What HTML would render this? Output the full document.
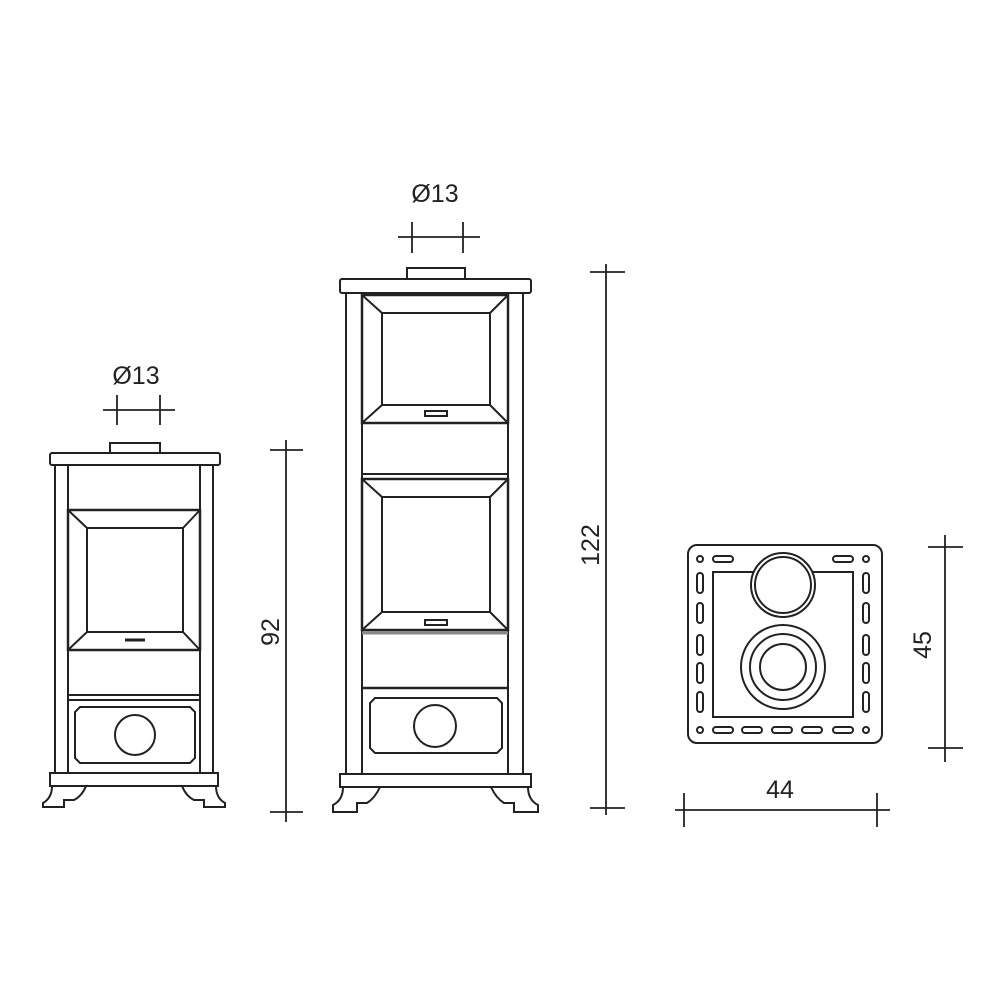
<!DOCTYPE html>
<html><head><meta charset="utf-8"><style>
html,body{margin:0;padding:0;background:#fff}
svg{display:block}
text{font-family:"Liberation Sans",sans-serif;font-size:25px;fill:#222}
</style></head><body>
<svg width="1000" height="1000" viewBox="0 0 1000 1000" xmlns="http://www.w3.org/2000/svg">
<g fill="none" stroke="#222" stroke-width="2">
<!-- small stove -->
<rect x="110" y="443" width="50" height="10"/>
<rect x="50" y="453" width="170" height="12" rx="2"/>
<line x1="55" y1="465" x2="55" y2="773"/><line x1="68" y1="465" x2="68" y2="773"/>
<line x1="200" y1="465" x2="200" y2="773"/><line x1="213" y1="465" x2="213" y2="773"/>
<rect x="68" y="510" width="132" height="140" stroke-width="2.5"/>
<rect x="87" y="528" width="96" height="104"/>
<line x1="68" y1="510" x2="87" y2="528"/><line x1="200" y1="510" x2="183" y2="528"/>
<line x1="68" y1="650" x2="87" y2="632"/><line x1="200" y1="650" x2="183" y2="632"/>
<line x1="125" y1="640" x2="145" y2="640" stroke-width="3"/>
<line x1="68" y1="695" x2="200" y2="695"/><line x1="68" y1="700" x2="200" y2="700"/>
<path d="M80 707 H190 L195 712 V758 L190 763 H80 L75 758 V712 Z"/>
<circle cx="135" cy="735" r="20"/>
<rect x="50" y="773" width="168" height="13"/>
<path d="M52 786 Q52 798 43 803 V807 H64 V800 H74 Q82 796 86 786"/>
<path d="M216 786 Q216 798 225 803 V807 H204 V800 H194 Q186 796 182 786"/>
<!-- tall stove -->
<rect x="407" y="268" width="58" height="11"/>
<rect x="340" y="279" width="191" height="14" rx="2"/>
<line x1="346" y1="293" x2="346" y2="774"/><line x1="362" y1="293" x2="362" y2="774"/>
<line x1="508" y1="293" x2="508" y2="774"/><line x1="523" y1="293" x2="523" y2="774"/>
<rect x="362" y="295" width="146" height="128" stroke-width="2.5"/>
<rect x="382" y="313" width="108" height="92"/>
<line x1="362" y1="295" x2="382" y2="313"/><line x1="508" y1="295" x2="490" y2="313"/>
<line x1="362" y1="423" x2="382" y2="405"/><line x1="508" y1="423" x2="490" y2="405"/>
<rect x="425" y="411" width="22" height="5"/>
<line x1="362" y1="474" x2="508" y2="474"/>
<rect x="362" y="479" width="146" height="151" stroke-width="2.5"/>
<rect x="382" y="497" width="108" height="115"/>
<line x1="362" y1="479" x2="382" y2="497"/><line x1="508" y1="479" x2="490" y2="497"/>
<line x1="362" y1="630" x2="382" y2="612"/><line x1="508" y1="630" x2="490" y2="612"/>
<rect x="425" y="620" width="22" height="5"/>
<line x1="362" y1="633" x2="508" y2="633" stroke="#888" stroke-width="3"/>
<line x1="362" y1="688" x2="508" y2="688" stroke-width="2.5"/>
<path d="M375 698 H497 L502 703 V748 L497 753 H375 L370 748 V703 Z"/>
<circle cx="435" cy="726" r="21"/>
<rect x="340" y="774" width="191" height="13"/>
<path d="M343 787 Q343 800 333 805 V812 H357 V803 H367 Q375 798 380 787"/>
<path d="M528 787 Q528 800 538 805 V812 H514 V803 H504 Q496 798 491 787"/>
<!-- plan -->
<rect x="688" y="545" width="194" height="198" rx="9"/>
<rect x="713" y="572" width="140" height="145"/>
<circle cx="783" cy="585" r="32" fill="#fff"/>
<circle cx="783" cy="585" r="28"/>
<circle cx="783" cy="667" r="42"/><circle cx="783" cy="667" r="33"/><circle cx="783" cy="667" r="23"/>
<circle cx="700" cy="559" r="3"/><circle cx="866" cy="559" r="3"/>
<circle cx="700" cy="730" r="3"/><circle cx="866" cy="730" r="3"/>
<rect x="713" y="556" width="20" height="6" rx="3"/><rect x="833" y="556" width="20" height="6" rx="3"/>
<rect x="713" y="727" width="20" height="6" rx="3"/><rect x="742" y="727" width="20" height="6" rx="3"/>
<rect x="772" y="727" width="20" height="6" rx="3"/><rect x="802" y="727" width="20" height="6" rx="3"/>
<rect x="833" y="727" width="20" height="6" rx="3"/>
<rect x="697" y="573" width="6" height="20" rx="3"/><rect x="697" y="603" width="6" height="20" rx="3"/>
<rect x="697" y="635" width="6" height="20" rx="3"/><rect x="697" y="663" width="6" height="20" rx="3"/>
<rect x="697" y="692" width="6" height="20" rx="3"/>
<rect x="863" y="573" width="6" height="20" rx="3"/><rect x="863" y="603" width="6" height="20" rx="3"/>
<rect x="863" y="635" width="6" height="20" rx="3"/><rect x="863" y="663" width="6" height="20" rx="3"/>
<rect x="863" y="692" width="6" height="20" rx="3"/>
<!-- dimensions -->
<g stroke-width="1.8">
<line x1="286" y1="440" x2="286" y2="822"/><line x1="270" y1="450" x2="303" y2="450"/><line x1="270" y1="812" x2="303" y2="812"/>
<line x1="606" y1="264" x2="606" y2="815"/><line x1="590" y1="272" x2="625" y2="272"/><line x1="590" y1="808" x2="625" y2="808"/>
<line x1="945" y1="535" x2="945" y2="762"/><line x1="928" y1="547" x2="963" y2="547"/><line x1="928" y1="748" x2="963" y2="748"/>
<line x1="675" y1="810" x2="890" y2="810"/><line x1="684" y1="793" x2="684" y2="827"/><line x1="877" y1="793" x2="877" y2="827"/>
<line x1="103" y1="410" x2="175" y2="410"/><line x1="117" y1="395" x2="117" y2="425"/><line x1="160" y1="395" x2="160" y2="425"/>
<line x1="398" y1="237" x2="480" y2="237"/><line x1="412" y1="222" x2="412" y2="253"/><line x1="463" y1="222" x2="463" y2="253"/>
</g>
</g>
<text x="136" y="384" text-anchor="middle">Ø13</text>
<text x="435" y="202" text-anchor="middle">Ø13</text>
<text x="780" y="798" text-anchor="middle">44</text>
<text transform="translate(279,632) rotate(-90)" text-anchor="middle">92</text>
<text transform="translate(599,545) rotate(-90)" text-anchor="middle">122</text>
<text transform="translate(931,645) rotate(-90)" text-anchor="middle">45</text>
</svg>
</body></html>
